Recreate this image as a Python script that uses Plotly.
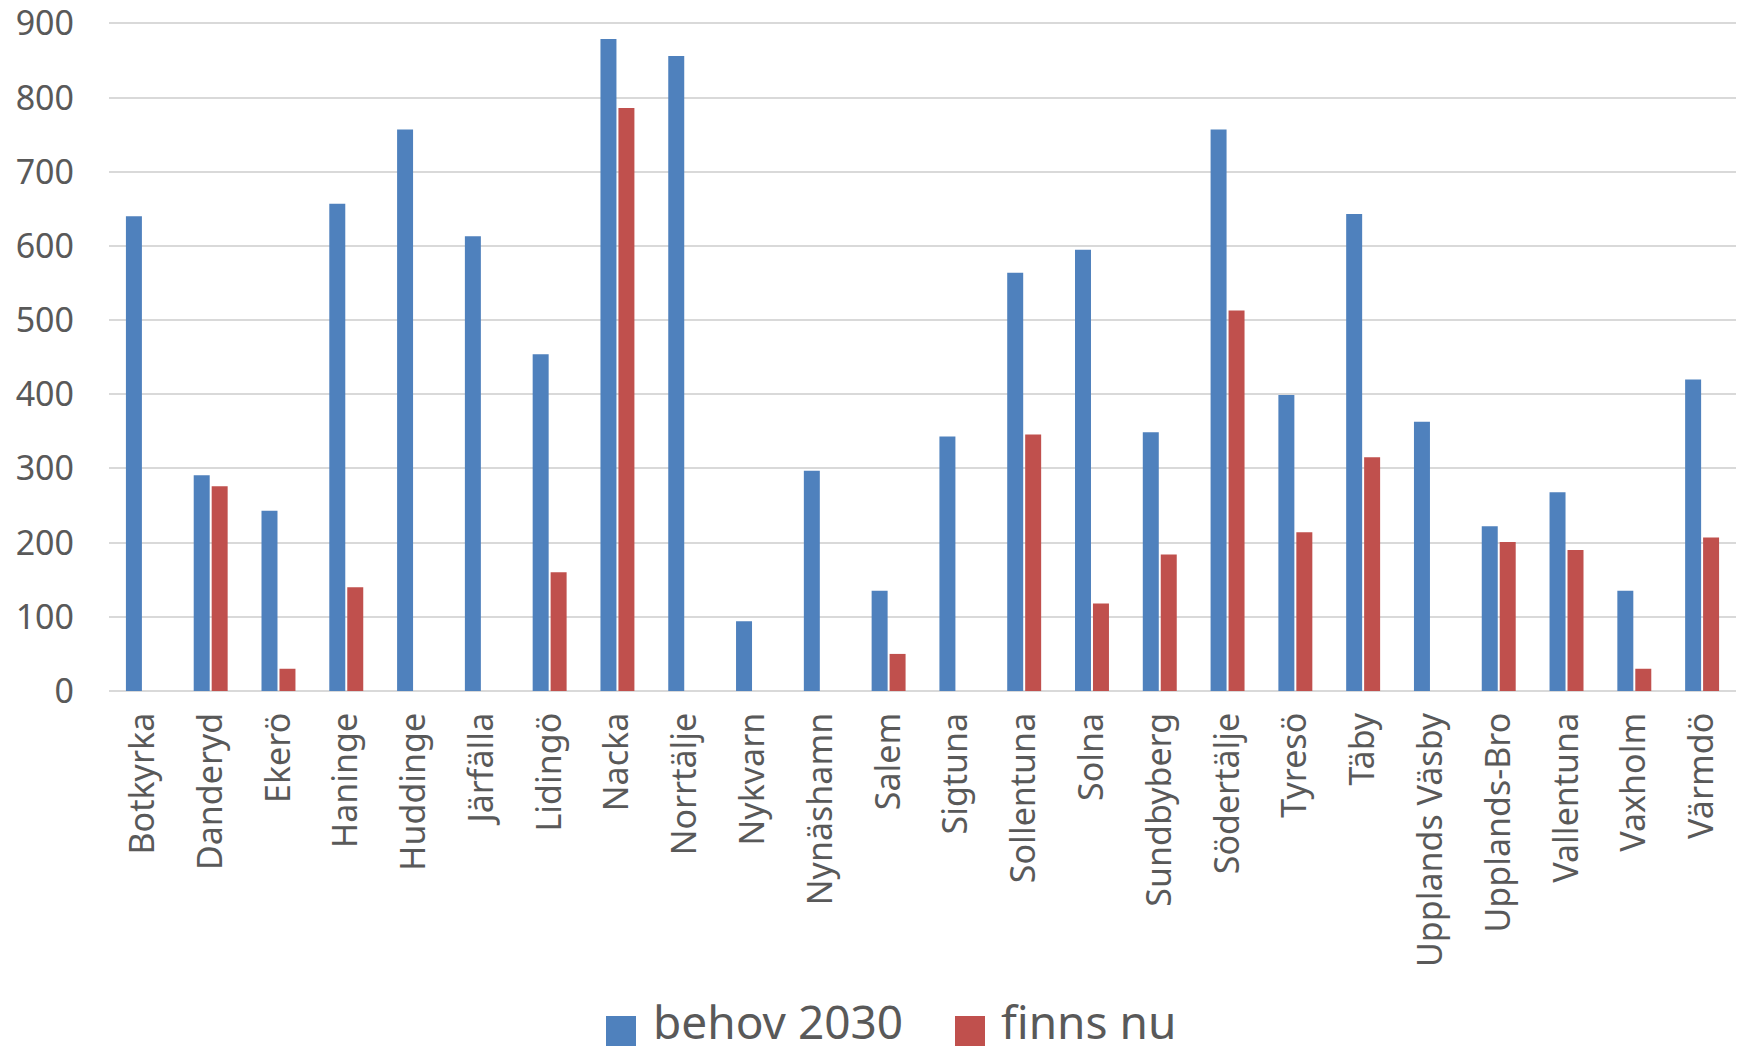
import plotly.graph_objects as go

kommuner = ["Botkyrka", "Danderyd", "Ekerö", "Haninge", "Huddinge", "Järfälla", "Lidingö",
            "Nacka", "Norrtälje", "Nykvarn", "Nynäshamn", "Salem", "Sigtuna", "Sollentuna",
            "Solna", "Sundbyberg", "Södertälje", "Tyresö", "Täby", "Upplands Väsby",
            "Upplands-Bro", "Vallentuna", "Vaxholm", "Värmdö"]
behov_2030 = [640, 291, 243, 657, 757, 613, 454, 879, 856, 94, 297, 135, 343, 564,
              595, 349, 757, 399, 643, 363, 222, 268, 135, 420]
finns_nu = [None, 276, 30, 140, None, None, 160, 786, None, None, None, 50, None, 346,
            118, 184, 513, 214, 315, None, 201, 190, 30, 207]
y_ticks = [0, 100, 200, 300, 400, 500, 600, 700, 800, 900]
series_names = ["behov 2030", "finns nu"]
series_colors = ["#4f81bd", "#c0504d"]

FONT = "Noto Sans"
GREY = "#595959"

W, H = 1745, 1054
L, R, T, B = 109, 9, 22, 363
PW, PH = W - L - R, H - T - B

def px_x(p):
    return (p - L) / PW

def px_y(p):
    return (H - B - p) / PH

fig = go.Figure()
for name, vals, col in zip(series_names, [behov_2030, finns_nu], series_colors):
    fig.add_trace(go.Bar(x=kommuner, y=vals, name=name, showlegend=False,
                         marker=dict(color=col, line=dict(width=0))))

# manual legend with large square swatches
legend_items = [(606, 652), (955, 1000)]
for (sq_left, txt_left), name, col in zip(legend_items, series_names, series_colors):
    fig.add_shape(type="rect", xref="paper", yref="paper",
                  x0=px_x(sq_left), x1=px_x(sq_left + 30),
                  y0=px_y(1046), y1=px_y(1016),
                  fillcolor=col, line=dict(width=0))
    fig.add_annotation(xref="paper", yref="paper", x=px_x(txt_left), y=px_y(1053),
                       xanchor="left", yanchor="bottom", text=name, showarrow=False,
                       borderpad=0,
                       font=dict(size=46, color=GREY, family=FONT))

fig.update_layout(
    width=W, height=H,
    margin=dict(l=L, r=R, t=T, b=B, autoexpand=False),
    paper_bgcolor="white", plot_bgcolor="white",
    barmode="group", bargap=0.47, bargroupgap=0.11,
    font=dict(family=FONT, color=GREY),
    showlegend=False,
)
fig.update_xaxes(tickangle=-90, tickfont=dict(size=34, color=GREY, family=FONT),
                 showgrid=False, showline=False, ticks="", ticklabelstandoff=14,
                 automargin=False)
fig.update_yaxes(range=[0, 902], tickvals=y_ticks, tickfont=dict(size=34, color=GREY, family=FONT),
                 showgrid=True, gridcolor="#d9d9d9", gridwidth=2,
                 zeroline=True, zerolinecolor="#d9d9d9", zerolinewidth=2,
                 showline=False, ticks="", ticklabelstandoff=34, automargin=False,
                 ticklabeloverflow="allow")

fig.write_html("out.html", config={"displayModeBar": False},
               post_script="document.body.style.margin='0';document.body.style.overflow='hidden';")
